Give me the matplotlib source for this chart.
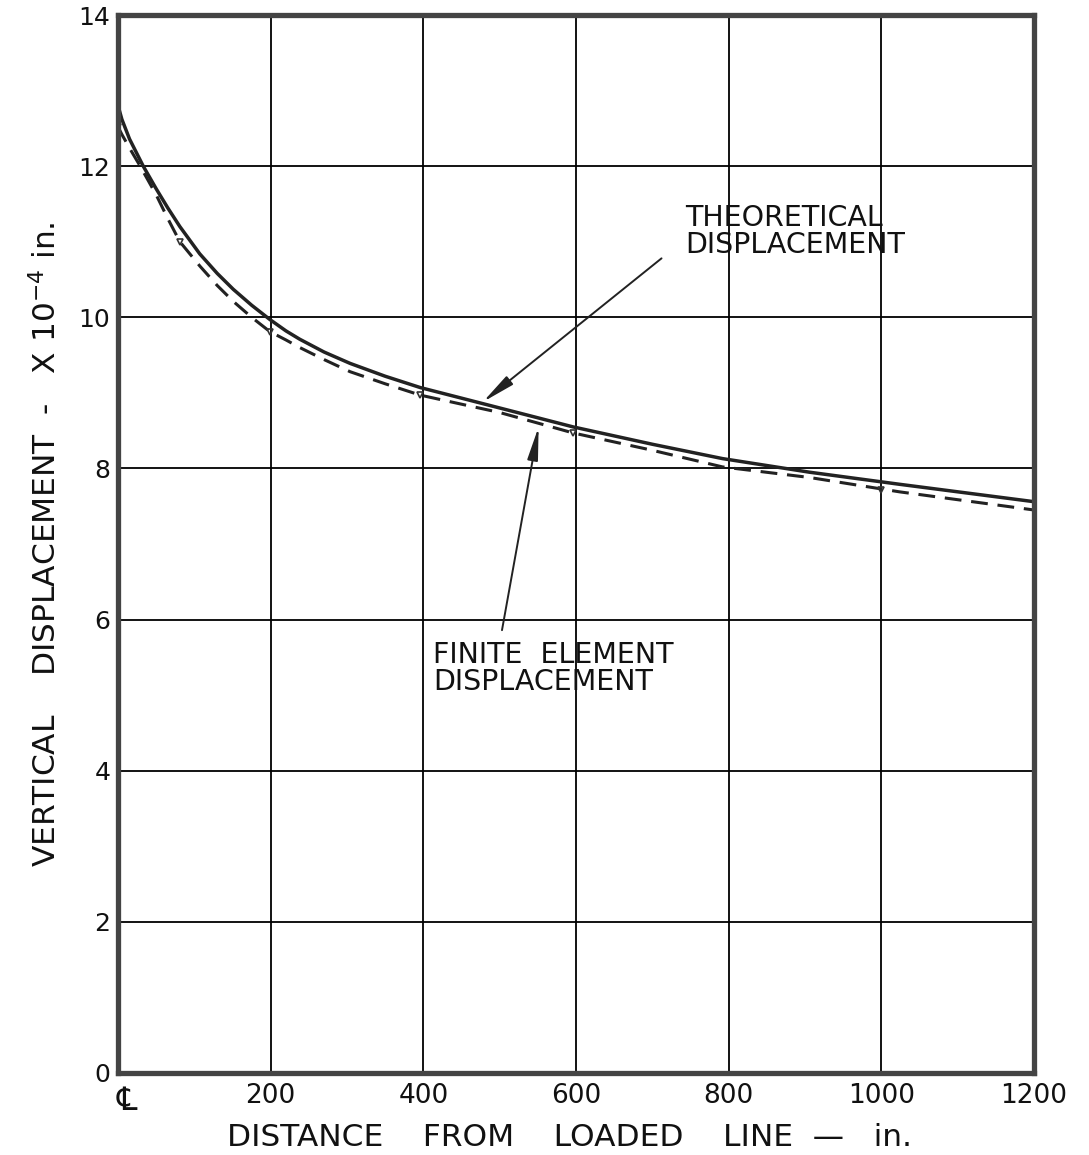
import numpy as np
import matplotlib.pyplot as plt

# theoretical displacement (solid curve), x in inches, y in 1e-4 in.
th_x = [0, 5, 15, 33, 50, 65, 81, 107, 130, 151, 175, 199, 220, 238, 270,
        304, 350, 396, 450, 500, 550, 596, 700, 792, 906, 1024, 1200]
th_y = [12.80, 12.62, 12.36, 12.00, 11.70, 11.45, 11.20, 10.84, 10.58, 10.37,
        10.16, 9.97, 9.82, 9.71, 9.54, 9.39, 9.22, 9.07, 8.93, 8.80, 8.67,
        8.55, 8.32, 8.13, 7.95, 7.79, 7.56]

# finite element displacement (dashed curve)
fe_x = [0, 5, 15, 29, 50, 65, 81, 107, 130, 151, 175, 199, 220, 238, 270,
        304, 350, 396, 450, 500, 550, 596, 700, 792, 906, 1024, 1200]
fe_y = [12.52, 12.42, 12.24, 12.00, 11.62, 11.31, 11.00, 10.68, 10.42, 10.21,
        10.00, 9.81, 9.70, 9.60, 9.44, 9.28, 9.12, 8.97, 8.85, 8.74, 8.60,
        8.47, 8.24, 8.02, 7.88, 7.69, 7.45]

# element nodes marked on the dashed curve
node_x = [0, 81, 199, 396, 596, 1000]
node_y = [12.52, 11.00, 9.81, 8.97, 8.47, 7.72]

xticks = [0, 200, 400, 600, 800, 1000, 1200]
xticklabels = ['', '200', '400', '600', '800', '1000', '1200']
yticks = [0, 2, 4, 6, 8, 10, 12, 14]

plt.rcParams['font.family'] = ['DejaVu Sans']

fig = plt.figure(figsize=(10.89, 11.55), dpi=100)
ax = fig.add_axes([0.1084, 0.071, 0.8411, 0.916])

ax.plot(th_x, th_y, '-', color='#222222', lw=2.5)
ax.plot(fe_x, fe_y, '--', color='#222222', lw=2.2, dashes=(5.5, 3.2))
ax.plot(node_x, node_y, 'v', color='#333333', ms=5, mfc='none', mew=1.2)

ax.set_xlim(0, 1200)
ax.set_ylim(0, 14)
ax.set_xticks(xticks)
ax.set_xticklabels(xticklabels)
ax.set_yticks(yticks)
ax.grid(True, color='black', lw=1.3)
ax.tick_params(length=0, colors='#111111')
ax.tick_params(axis='x', pad=7, labelsize=19)
ax.tick_params(axis='y', pad=5.5, labelsize=18)
for sp in ax.spines.values():
    sp.set_linewidth(3.8)
    sp.set_color('#444444')

# centre line symbol under the origin
ax.text(12, -0.0265, '\u2104', transform=ax.get_xaxis_transform(),
        fontsize=23, ha='center', va='center', color='#111111')

ax.set_xlabel('DISTANCE    FROM    LOADED    LINE  \u2014   in.', fontsize=22.5,
              color='#111111')
ax.xaxis.set_label_coords(0.493, -0.047)
ax.set_ylabel('VERTICAL    DISPLACEMENT  -   X 10$^{-4}$ in.', fontsize=22.5,
              color='#111111')
ax.yaxis.set_label_coords(-0.061, 0.5)

ax.text(743, 11.50, 'THEORETICAL\nDISPLACEMENT', fontsize=20.5, va='top',
        ha='left', linespacing=0.95, color='#111111')
ax.text(413, 5.72, 'FINITE  ELEMENT\nDISPLACEMENT', fontsize=20.5, va='top',
        ha='left', linespacing=0.95, color='#111111')

arrow = dict(arrowstyle='-|>,head_length=1.0,head_width=0.16', color='#222222',
             lw=1.4, mutation_scale=20, shrinkA=0, shrinkB=0)
ax.annotate('', xy=(478, 8.88), xytext=(712, 10.78), arrowprops=arrow)
ax.annotate('', xy=(551, 8.55), xytext=(503, 5.86), arrowprops=arrow)

fig.savefig('out.png', dpi=100)
